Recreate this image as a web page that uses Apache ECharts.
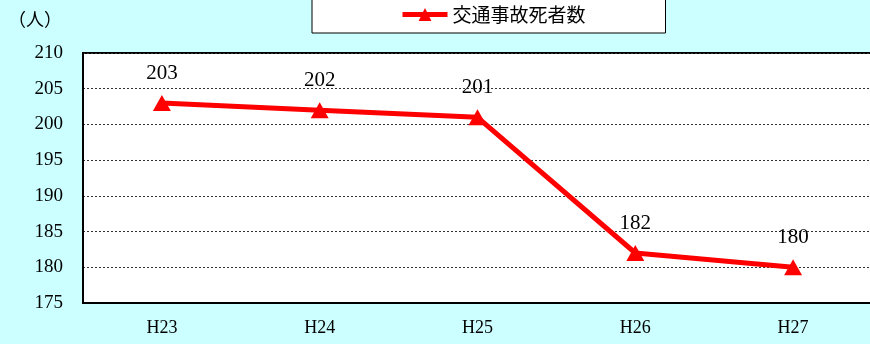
<!DOCTYPE html>
<html>
<head>
<meta charset="utf-8">
<script src="https://cdn.jsdelivr.net/npm/echarts@6/dist/echarts.min.js"></script>
<style>html,body{margin:0;padding:0;background:#CCFFFF;}#c{width:870px;height:344px;}</style>
</head>
<body>
<div id="c"></div>
<script>
const categories = ['H23', 'H24', 'H25', 'H26', 'H27'];
const deaths = [203, 202, 201, 182, 180];
const seriesName = '交通事故死者数';
const unitLabel = '（人）';

const serif = '"Liberation Serif", "DejaVu Serif", "Noto Sans CJK JP", serif';
const chart = echarts.init(document.getElementById('c'));
chart.setOption({
  backgroundColor: '#CCFFFF',
  animation: false,
  graphic: [{
    type: 'text', left: 8, top: 10,
    style: { text: unitLabel, font: '18px "Noto Sans CJK JP"', fill: '#000' }
  }],
  legend: {
    left: 312, top: -4,
    padding: [9, 80, 9, 88],
    backgroundColor: '#fff',
    borderColor: '#000', borderWidth: 1,
    itemWidth: 45, itemHeight: 16, itemGap: 4,
    lineStyle: { width: 5 },
    textStyle: { fontSize: 19, color: '#000', fontFamily: '"Noto Sans CJK JP"' },
    data: [seriesName]
  },
  grid: { left: 83, width: 789, top: 53, bottom: 41, outerBoundsMode: 'none', containLabel: false, show: true, backgroundColor: '#fff', borderColor: '#000', borderWidth: 2 },
  xAxis: {
    type: 'category', data: categories, boundaryGap: true,
    axisLine: { show: true, lineStyle: { color: '#000', width: 2 } },
    axisTick: { show: false },
    axisLabel: { fontSize: 18, color: '#000', fontFamily: serif, margin: 16 }
  },
  yAxis: {
    type: 'value', min: 175, max: 210, interval: 5,
    axisLine: { show: true, lineStyle: { color: '#000', width: 2 } },
    axisTick: { show: false },
    axisLabel: { fontSize: 19, color: '#000', fontFamily: serif, margin: 20 },
    splitLine: { show: true, lineStyle: { color: '#333', type: [2, 2], width: 1 } }
  },
  series: [{
    name: seriesName, type: 'line', data: deaths,
    symbol: 'triangle', symbolSize: [18, 16],
    lineStyle: { color: '#FF0000', width: 5 },
    itemStyle: { color: '#FF0000' },
    label: { show: true, position: 'top', distance: 11, fontSize: 21, color: '#000', fontFamily: serif }
  }]
});
</script>
</body>
</html>
